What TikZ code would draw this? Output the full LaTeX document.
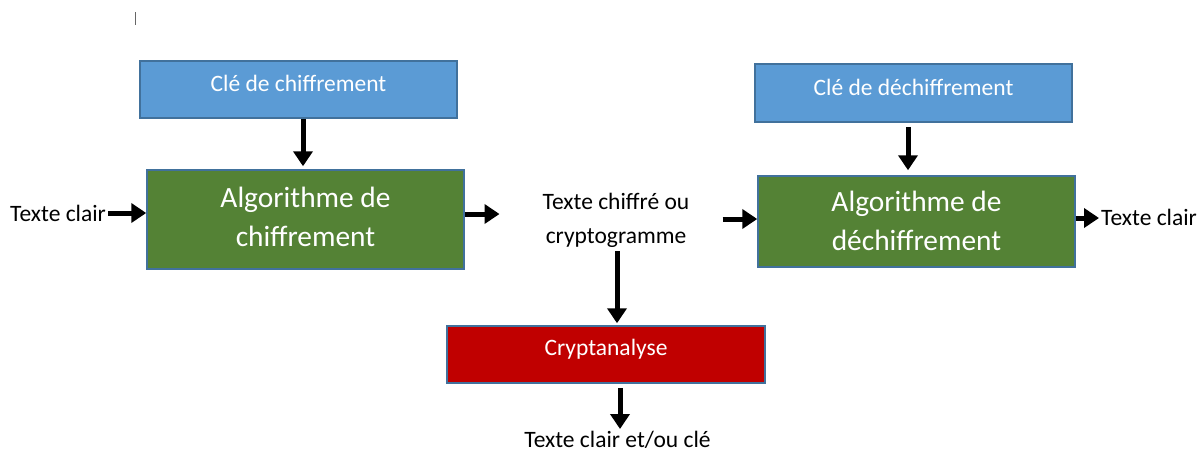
\documentclass[tikz,border=0pt]{standalone}
\usepackage{fontspec}
\setmainfont{Carlito}
\usetikzlibrary{arrows.meta,calc}
\definecolor{keyblue}{HTML}{5B9BD5}
\definecolor{edgeblue}{HTML}{41719C}
\definecolor{algogreen}{HTML}{548235}
\definecolor{attackred}{HTML}{C00000}
\tikzset{
  box/.style={draw=edgeblue, line width=1.5pt, inner sep=0pt, minimum width=317pt},
  keybox/.style={box, fill=keyblue, minimum height=57pt},
  algobox/.style={box, fill=algogreen},
  keytext/.style={inner sep=0pt, text=white, font=\fontsize{23.5}{28}\selectfont},
  algotext/.style={inner sep=0pt, text=white, align=center, font=\fontsize{29.4}{39}\selectfont},
  label/.style={inner sep=2pt, align=center, font=\fontsize{23.5}{34}\selectfont},
  arr/.style={line width=5pt, -{Triangle[length=15pt,width=19pt]}}
}
\begin{document}
\begin{tikzpicture}[x=1pt,y=-1pt]
  \useasboundingbox (0,0) rectangle (1200,451);
  % text cursor mark
  \draw[gray!80!black, line width=1pt] (135,12) -- (135,25);

  % encryption side
  \node[keybox] (key1) at (298.5,89.5) {};
  \node[keytext] (key1t) at ($(key1.center)+(0,-6)$) {Clé de chiffrement};
  \node[algobox, minimum height=99pt] (algo1) at (305.5,219.5) {};
  \node[algotext] (algo1t) at ($(algo1.center)+(0,-3)$) {Algorithme de\\chiffrement};
  \node[label, anchor=west] (plain1) at (8,213) {Texte clair};

  % ciphertext
  \node[label] (cipher) at (616,220) {Texte chiffré ou\\cryptogramme};

  % decryption side
  \node[keybox, minimum height=58pt] (key2) at (913.5,93) {};
  \node[keytext] (key2t) at ($(key2.center)+(0,-6)$) {Clé de déchiffrement};
  \node[algobox, minimum height=91pt] (algo2) at (916.5,221.5) {};
  \node[algotext] (algo2t) at ($(algo2.center)+(0,-1)$) {Algorithme de\\déchiffrement};
  \node[label, anchor=west] (plain2) at (1099,217) {Texte clair};

  % cryptanalysis
  \node[keybox, fill=attackred, minimum width=318pt] (attack) at (606,354.5) {};
  \node[keytext] (attackt) at ($(attack.center)+(0,-5)$) {Cryptanalyse};
  \node[label, anchor=north] (result) at (617.5,429) {Texte clair et/ou clé};

  % connectors
  \draw[arr] (plain1.east |- 0,213) -- (algo1.west |- 0,213);
  \draw[arr, shorten >=3pt] (key1.south -| 303,0) -- (algo1.north -| 303,0);
  \draw[arr, shorten >=41pt] (algo1.east |- 0,214) -- (cipher.west |- 0,214);
  \draw[arr, shorten <=31pt] (cipher.east |- 0,219) -- (algo2.west |- 0,219);
  \draw[arr, shorten <=4pt, shorten >=5pt] (key2.south -| 908,0) -- (algo2.north -| 908,0);
  \draw[arr] (algo2.east |- 0,218) -- (plain2.west |- 0,218);
  \draw[arr, shorten <=2pt, shorten >=2pt] (cipher.south -| 617,0) -- (attack.north -| 617,0);
  \draw[arr, shorten <=4pt] (attack.south -| 620,0) -- (result.north -| 620,0);
\end{tikzpicture}
\end{document}
